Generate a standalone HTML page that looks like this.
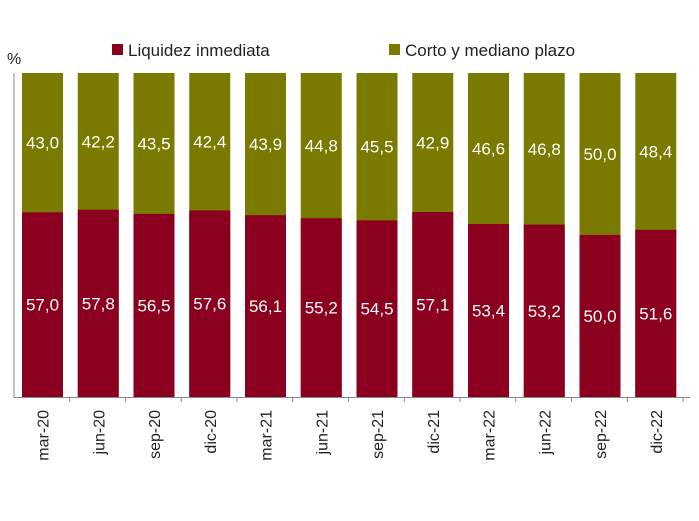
<!DOCTYPE html>
<html><head><style>
body{margin:0;background:#fff;}
svg text{font-family:"Liberation Sans",sans-serif;}
.v{font-size:17px;fill:#fff;text-anchor:middle;}
.x{font-size:16px;fill:#222;text-anchor:end;}
</style></head><body>
<svg width="699" height="516" xmlns="http://www.w3.org/2000/svg">
<rect width="699" height="516" fill="#fff"/>
<text x="7" y="64" font-size="16" fill="#222">%</text>
<rect x="112" y="44" width="11" height="11" fill="#8b001e"/>
<text x="128" y="56" font-size="17" fill="#222">Liquidez inmediata</text>
<rect x="389" y="44" width="11" height="11" fill="#7a7a00"/>
<text x="405" y="56" font-size="17" fill="#222">Corto y mediano plazo</text>
<g fill="#7a7a00">
<rect x="22" y="73" width="41" height="324"/>
<rect x="77.75" y="73" width="41" height="324"/>
<rect x="133.5" y="73" width="41" height="324"/>
<rect x="189.25" y="73" width="41" height="324"/>
<rect x="245" y="73" width="41" height="324"/>
<rect x="300.75" y="73" width="41" height="324"/>
<rect x="356.5" y="73" width="41" height="324"/>
<rect x="412.25" y="73" width="41" height="324"/>
<rect x="468" y="73" width="41" height="324"/>
<rect x="523.75" y="73" width="41" height="324"/>
<rect x="579.5" y="73" width="41" height="324"/>
<rect x="635.25" y="73" width="41" height="324"/>
</g>
<g fill="#8b001e">
<rect x="22" y="212.3" width="41" height="184.7"/>
<rect x="77.75" y="209.7" width="41" height="187.3"/>
<rect x="133.5" y="213.9" width="41" height="183.1"/>
<rect x="189.25" y="210.4" width="41" height="186.6"/>
<rect x="245" y="215.2" width="41" height="181.8"/>
<rect x="300.75" y="218.2" width="41" height="178.8"/>
<rect x="356.5" y="220.4" width="41" height="176.6"/>
<rect x="412.25" y="212" width="41" height="185"/>
<rect x="468" y="224" width="41" height="173"/>
<rect x="523.75" y="224.6" width="41" height="172.4"/>
<rect x="579.5" y="235" width="41" height="162"/>
<rect x="635.25" y="229.8" width="41" height="167.2"/>
</g>
<text class="v" x="42.5" y="148.7">43,0</text><text class="v" x="42.5" y="310.7">57,0</text>
<text class="v" x="98.25" y="147.4">42,2</text><text class="v" x="98.25" y="309.4">57,8</text>
<text class="v" x="154" y="149.5">43,5</text><text class="v" x="154" y="311.5">56,5</text>
<text class="v" x="209.75" y="147.7">42,4</text><text class="v" x="209.75" y="309.7">57,6</text>
<text class="v" x="265.5" y="150.1">43,9</text><text class="v" x="265.5" y="312.1">56,1</text>
<text class="v" x="321.25" y="151.6">44,8</text><text class="v" x="321.25" y="313.6">55,2</text>
<text class="v" x="377" y="152.7">45,5</text><text class="v" x="377" y="314.7">54,5</text>
<text class="v" x="432.75" y="148.5">42,9</text><text class="v" x="432.75" y="310.5">57,1</text>
<text class="v" x="488.5" y="154.5">46,6</text><text class="v" x="488.5" y="316.5">53,4</text>
<text class="v" x="544.25" y="154.8">46,8</text><text class="v" x="544.25" y="316.8">53,2</text>
<text class="v" x="600" y="160">50,0</text><text class="v" x="600" y="322">50,0</text>
<text class="v" x="655.75" y="157.4">48,4</text><text class="v" x="655.75" y="319.4">51,6</text>
<line x1="14" y1="73" x2="14" y2="397" stroke="#888" stroke-width="1"/>
<line x1="14" y1="397.5" x2="690" y2="397.5" stroke="#888" stroke-width="1"/>
<g stroke="#888">
<line x1="69.75" y1="397" x2="69.75" y2="402"/><line x1="125.5" y1="397" x2="125.5" y2="402"/>
<line x1="181.25" y1="397" x2="181.25" y2="402"/><line x1="237" y1="397" x2="237" y2="402"/>
<line x1="292.75" y1="397" x2="292.75" y2="402"/><line x1="348.5" y1="397" x2="348.5" y2="402"/>
<line x1="404.25" y1="397" x2="404.25" y2="402"/><line x1="460" y1="397" x2="460" y2="402"/>
<line x1="515.75" y1="397" x2="515.75" y2="402"/><line x1="571.5" y1="397" x2="571.5" y2="402"/>
<line x1="627.25" y1="397" x2="627.25" y2="402"/><line x1="683" y1="397" x2="683" y2="402"/>
</g>
<text class="x" transform="translate(48.5,410) rotate(-90)">mar-20</text>
<text class="x" transform="translate(104.25,410) rotate(-90)">jun-20</text>
<text class="x" transform="translate(160,410) rotate(-90)">sep-20</text>
<text class="x" transform="translate(215.75,410) rotate(-90)">dic-20</text>
<text class="x" transform="translate(271.5,410) rotate(-90)">mar-21</text>
<text class="x" transform="translate(327.25,410) rotate(-90)">jun-21</text>
<text class="x" transform="translate(383,410) rotate(-90)">sep-21</text>
<text class="x" transform="translate(438.75,410) rotate(-90)">dic-21</text>
<text class="x" transform="translate(494.5,410) rotate(-90)">mar-22</text>
<text class="x" transform="translate(550.25,410) rotate(-90)">jun-22</text>
<text class="x" transform="translate(606,410) rotate(-90)">sep-22</text>
<text class="x" transform="translate(661.75,410) rotate(-90)">dic-22</text>
</svg>
</body></html>
